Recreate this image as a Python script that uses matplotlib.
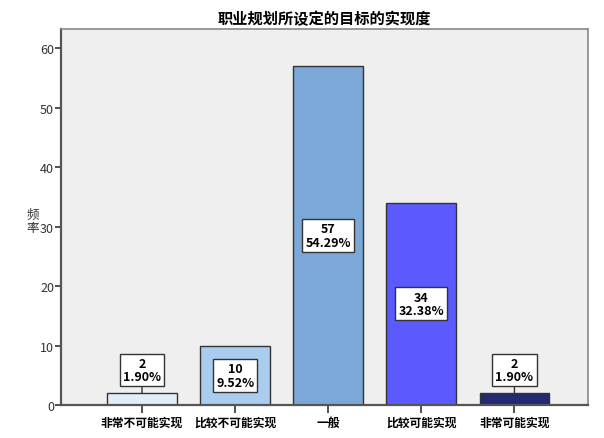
import matplotlib
matplotlib.use("Agg")
from matplotlib import pyplot as plt

plt.rcParams['font.family'] = ['Noto Sans CJK SC', 'DejaVu Sans']

categories = ["非常不可能实现", "比较不可能实现", "一般", "比较可能实现", "非常可能实现"]
counts = [2, 10, 57, 34, 2]
percents = ["1.90%", "9.52%", "54.29%", "32.38%", "1.90%"]
colors = ["#E2EDFA", "#AACCEE", "#7BA8D7", "#5A5AFF", "#232A72"]

fig = plt.figure(figsize=(6.04, 4.39), dpi=100)
ax = fig.add_axes([61/604, 1 - 406/439, 527/604, 376/439])
ax.set_facecolor("#EFEFEF")

x = list(range(len(categories)))
ax.bar(x, counts, width=0.75, color=colors, edgecolor="#333333", linewidth=1.0, zorder=2)

for i, (c, p) in enumerate(zip(counts, percents)):
    txt = "%d\n%s" % (c, p)
    box = dict(boxstyle="square,pad=0.25", facecolor="white", edgecolor="#333333", linewidth=1)
    if c < 5:
        ax.annotate(txt, xy=(i, c), xytext=(i, 5.9), ha="center", va="center",
                    fontsize=9, fontweight="bold", linespacing=1.05, bbox=box,
                    arrowprops=dict(arrowstyle="-", color="#333333", lw=1,
                                    shrinkA=0, shrinkB=0), zorder=3)
    else:
        ax.text(i, c / 2, txt, ha="center", va="center", fontsize=9,
                fontweight="bold", linespacing=1.05, bbox=box, zorder=3)

ax.set_xlim(-0.87, 4.79)
ax.set_ylim(0, 63.2)
ax.set_yticks([0, 10, 20, 30, 40, 50, 60])
ax.set_xticks(x)
ax.set_xticklabels(categories, fontsize=8.5, fontweight="bold")
ax.tick_params(axis="y", labelsize=9, colors="#333333", length=4, width=1.2, direction="out", pad=1)
ax.tick_params(axis="x", length=6, width=1.2, colors="#333333", pad=2)
for lab in ax.get_xticklabels():
    lab.set_color("black")

for s in ["left", "bottom"]:
    ax.spines[s].set_color("#555555")
    ax.spines[s].set_linewidth(1.6)
for s in ["top", "right"]:
    ax.spines[s].set_color("#888888")
    ax.spines[s].set_linewidth(1.2)

ax.set_title("职业规划所设定的目标的实现度", fontsize=11, fontweight="bold", pad=4)
fig.text(33/604, 1 - 222/439, "频\n率", ha="center", va="center", fontsize=9, linespacing=1.0, color="#333333")

plt.savefig("out.png", dpi=100)
